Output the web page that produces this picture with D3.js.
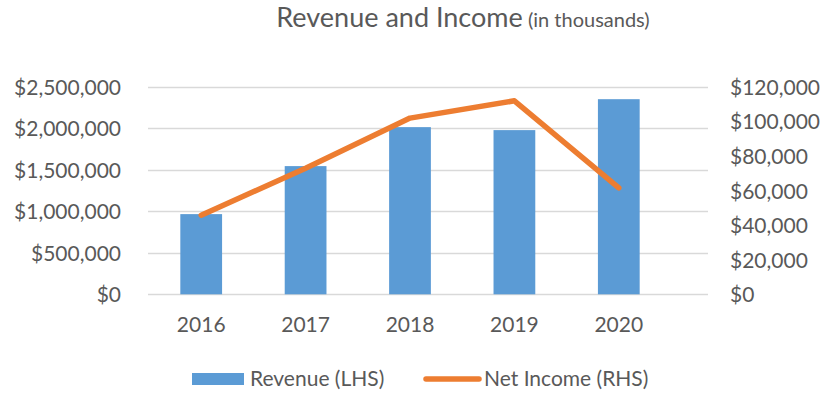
<!DOCTYPE html>
<html><head><meta charset="utf-8">
<script src="https://cdn.jsdelivr.net/npm/d3@7"></script>
<style>body{margin:0;background:#fff}svg{display:block}text{font-family:Lato,"Open Sans",sans-serif;fill:#595959}</style>
</head><body><svg id="c" width="834" height="417"></svg>
<script>
const years = ["2016","2017","2018","2019","2020"];
const revenue = [967000, 1546000, 2016000, 1980000, 2353000];
const netIncome = [45800, 73000, 102000, 112000, 61600];
const leftTicks = [0, 500000, 1000000, 1500000, 2000000, 2500000];
const rightTicks = [0, 20000, 40000, 60000, 80000, 100000, 120000];

const svg = d3.select("#c");
const plotTop = 87, plotBottom = 294.3, gridL = 148, gridR = 708;
const x = d3.scaleBand().domain(years).range([149, 671]).paddingInner(0.6).paddingOuter(0.3);
const yL = d3.scaleLinear().domain([0, 2500000]).range([plotBottom, plotTop]);
const yR = d3.scaleLinear().domain([0, 120000]).range([plotBottom, plotTop]);
const fmt = v => "$" + d3.format(",")(v);
const fs = "21px";

// gridlines
svg.append("g").selectAll("line").data(leftTicks).join("line")
  .attr("x1", gridL).attr("x2", gridR)
  .attr("y1", d => Math.round(yL(d)) + 0.5).attr("y2", d => Math.round(yL(d)) + 0.5)
  .attr("stroke", "#d9d9d9").attr("stroke-width", 1.3);

// left axis labels
const gl = svg.append("g").attr("transform", "translate(121,0)")
  .call(d3.axisLeft(yL).tickValues(leftTicks).tickFormat(fmt).tickSize(0).tickPadding(0));
gl.select(".domain").remove();
gl.selectAll("text").style("font-size", fs).attr("dy", "0.35em").attr("fill", "#595959");

// right axis labels
const gr = svg.append("g").attr("transform", "translate(730,0)")
  .call(d3.axisRight(yR).tickValues(rightTicks).tickFormat(fmt).tickSize(0).tickPadding(0));
gr.select(".domain").remove();
gr.selectAll("text").style("font-size", fs).attr("dy", "0.35em").attr("fill", "#595959");

// bars
svg.append("g").selectAll("rect").data(years).join("rect")
  .attr("x", d => x(d)).attr("width", x.bandwidth())
  .attr("y", (d, i) => yL(revenue[i])).attr("height", (d, i) => plotBottom - yL(revenue[i]))
  .attr("fill", "#5b9bd5");

// x labels
const gx = svg.append("g").attr("transform", "translate(0,325)")
  .call(d3.axisBottom(x).tickSize(0).tickPadding(0));
gx.select(".domain").remove();
gx.selectAll("text").style("font-size", fs).attr("dy", "0.35em").attr("fill", "#595959");

// line
const line = d3.line().x((d, i) => x(years[i]) + x.bandwidth() / 2).y(d => yR(d));
svg.append("path").datum(netIncome).attr("d", line)
  .attr("fill", "none").attr("stroke", "#ed7d31").attr("stroke-width", 5.5)
  .attr("stroke-linejoin", "round").attr("stroke-linecap", "round");

// title
const t = svg.append("text").attr("x", 463).attr("y", 21).attr("text-anchor", "middle").attr("dy", "0.35em");
t.append("tspan").text("Revenue and Income").style("font-size", "27px");
t.append("tspan").text(" (in thousands)").style("font-size", "20px");

// legend
svg.append("rect").attr("x", 192).attr("y", 373).attr("width", 52).attr("height", 12).attr("fill", "#5b9bd5");
svg.append("text").attr("x", 250).attr("y", 379).attr("dy", "0.35em").style("font-size", fs).text("Revenue (LHS)");
svg.append("line").attr("x1", 426).attr("x2", 479).attr("y1", 379).attr("y2", 379)
  .attr("stroke", "#ed7d31").attr("stroke-width", 5.5).attr("stroke-linecap", "round");
svg.append("text").attr("x", 484).attr("y", 379).attr("dy", "0.35em").style("font-size", fs).text("Net Income (RHS)");
</script></body></html>
